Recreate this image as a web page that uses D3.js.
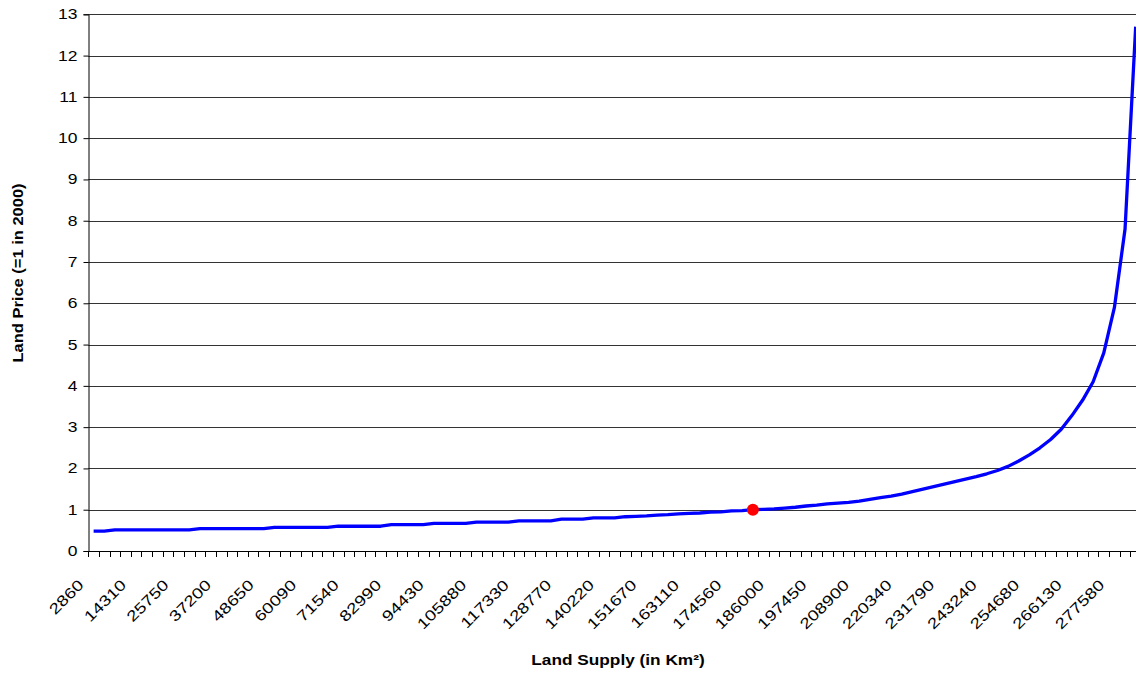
<!DOCTYPE html>
<html>
<head>
<meta charset="utf-8">
<script src="https://cdn.jsdelivr.net/npm/d3@7"></script>
<style>
  body { margin: 0; background: #fff; }
  text { font-family: "Liberation Sans", Arial, sans-serif; }
</style>
</head>
<body>
<div id="chart"></div>
<script>
// Data
var tickLabels = [2860, 14310, 25750, 37200, 48650, 60090, 71540, 82990, 94430, 105880,
  117330, 128770, 140220, 151670, 163110, 174560, 186000, 197450, 208900, 220340,
  231790, 243240, 254680, 266130, 277580];

// one value per category (99 categories, a label every 4th)
var priceValues = [
  0.48, 0.48,
  0.51, 0.51, 0.51, 0.51, 0.51, 0.51, 0.51, 0.51,
  0.54, 0.54, 0.54, 0.54, 0.54, 0.54, 0.54,
  0.57, 0.57, 0.57, 0.57, 0.57, 0.57,
  0.60, 0.60, 0.60, 0.60, 0.60,
  0.64, 0.64, 0.64, 0.64,
  0.67, 0.67, 0.67, 0.67,
  0.70, 0.70, 0.70, 0.70,
  0.73, 0.73, 0.73, 0.73,
  0.77, 0.77, 0.77,
  0.80, 0.80, 0.80,
  0.83, 0.84, 0.85, 0.87, 0.88, 0.90, 0.91, 0.92, 0.94, 0.95, 0.97, 0.98, 1.00,
  1.01, 1.02, 1.04, 1.06, 1.09, 1.11, 1.14, 1.16, 1.18, 1.21,
  1.25, 1.29, 1.33, 1.38, 1.44, 1.50, 1.56, 1.62, 1.68, 1.74, 1.80, 1.87, 1.95, 2.05, 2.18, 2.33,
  2.50, 2.70, 2.95, 3.28, 3.65, 4.10, 4.80, 5.90, 7.80, 12.70
];

// the red point (year 2000 = 1)
var markerCategory = [62];
var markerValue = [1];

var yTicks = [0, 1, 2, 3, 4, 5, 6, 7, 8, 9, 10, 11, 12, 13];

var width = 1136;
var height = 673;
var plotLeft = 88.3, plotRight = 1141, plotTop = 14.3, plotBottom = 551;
var stretch = 1.25; // text in the picture is drawn a bit wide

var svg = d3.select("#chart")
  .append("svg")
  .attr("width", width)
  .attr("height", height);

// Scales
const xScale = d3.scaleBand()
  .domain(d3.range(priceValues.length))
  .range([plotLeft, plotRight])
  .paddingInner(0)
  .paddingOuter(0);

const yScale = d3.scaleLinear()
  .domain([0, 13])
  .range([plotBottom, plotTop]);

const cx = i => xScale(i) + xScale.bandwidth() / 2;

// Gridlines
svg.append("g")
  .selectAll("line")
  .data(yTicks.filter(d => d > 0))
  .enter()
  .append("line")
  .attr("x1", plotLeft)
  .attr("x2", plotRight)
  .attr("y1", d => Math.round(yScale(d)) + 0.5)
  .attr("y2", d => Math.round(yScale(d)) + 0.5)
  .attr("stroke", "#333")
  .attr("stroke-width", 1);

// Y axis
const yAxis = svg.append("g")
  .attr("transform", "translate(" + (Math.round(plotLeft) + 0.5) + ",0)")
  .call(d3.axisLeft(yScale).tickValues(yTicks).tickSize(5).tickPadding(6));
yAxis.select(".domain").attr("stroke", "#000");
yAxis.selectAll(".tick line").attr("stroke", "#000");
yAxis.selectAll(".tick text")
  .attr("font-size", 14)
  .attr("fill", "#000")
  .attr("font-family", "Liberation Sans, Arial, sans-serif")
  .attr("x", 0)
  .attr("transform", "translate(-11,0) scale(" + stretch + ",1)");

// X axis line and ticks
const xAxisG = svg.append("g");
xAxisG.append("line")
  .attr("x1", plotLeft)
  .attr("x2", plotRight)
  .attr("y1", Math.round(plotBottom) + 0.5)
  .attr("y2", Math.round(plotBottom) + 0.5)
  .attr("stroke", "#000");

xAxisG.selectAll(".xtick")
  .data(d3.range(priceValues.length + 1))
  .enter()
  .append("line")
  .attr("class", "xtick")
  .attr("x1", i => Math.round(i < priceValues.length ? xScale(i) : plotRight) + 0.5)
  .attr("x2", i => Math.round(i < priceValues.length ? xScale(i) : plotRight) + 0.5)
  .attr("y1", plotBottom)
  .attr("y2", plotBottom + 6)
  .attr("stroke", "#000");

xAxisG.selectAll(".xlabel")
  .data(tickLabels)
  .enter()
  .append("text")
  .attr("class", "xlabel")
  .attr("transform", (d, k) => "translate(" + (cx(k * 4) - 9) + ",586) rotate(-45) scale(" + stretch + ",1)")
  .attr("text-anchor", "end")
  .attr("font-size", 15)
  .attr("fill", "#000")
  .text(d => d);

// Line
const line = d3.line()
  .x((d, i) => cx(i))
  .y(d => yScale(d));

svg.append("path")
  .datum(priceValues)
  .attr("d", line)
  .attr("fill", "none")
  .attr("stroke", "#0000ff")
  .attr("stroke-width", 3.3)
  .attr("stroke-linejoin", "round");

// Marker
svg.selectAll(".marker")
  .data(markerCategory)
  .enter()
  .append("circle")
  .attr("class", "marker")
  .attr("cx", d => cx(d))
  .attr("cy", (d, i) => yScale(markerValue[i]))
  .attr("r", 6)
  .attr("fill", "#ff0000");

// Axis titles
svg.append("text")
  .attr("transform", "translate(618,665) scale(1.15,1)")
  .attr("text-anchor", "middle")
  .attr("font-size", 15)
  .attr("font-weight", "bold")
  .text("Land Supply (in Km²)");

svg.append("text")
  .attr("transform", "translate(23,273) rotate(-90) scale(1.1,1)")
  .attr("text-anchor", "middle")
  .attr("font-size", 15)
  .attr("font-weight", "bold")
  .text("Land Price (=1 in 2000)");
</script>
</body>
</html>
